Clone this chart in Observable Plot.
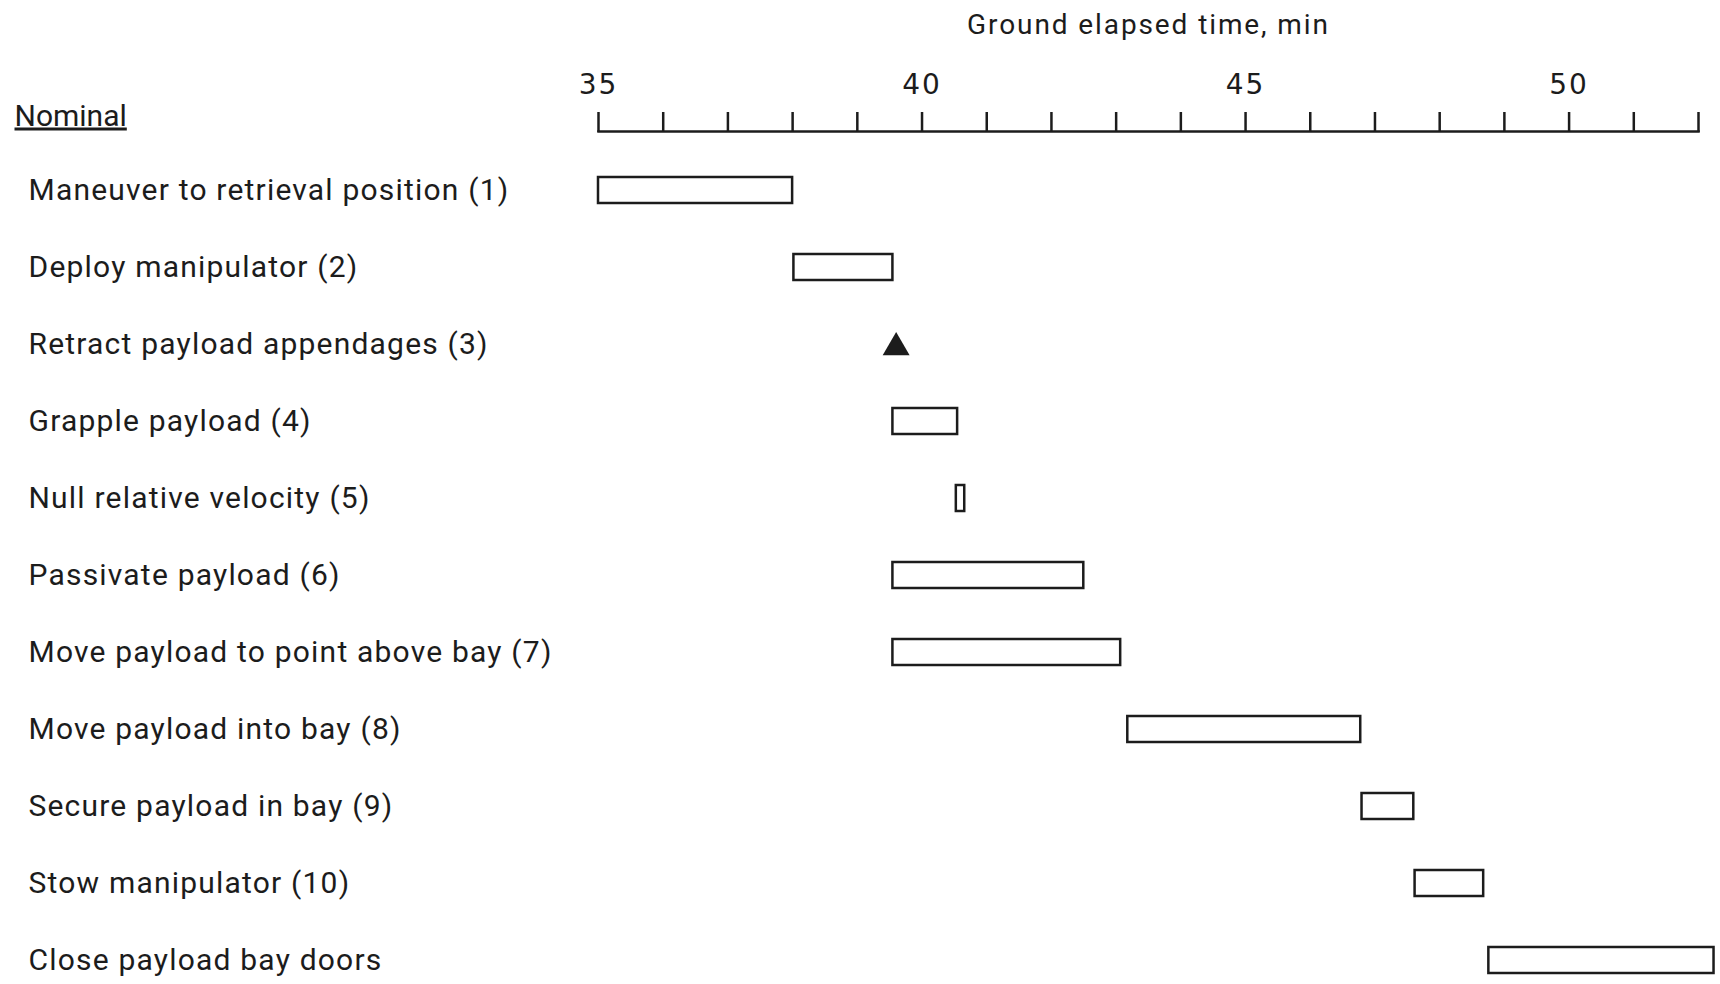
<!DOCTYPE html>
<html><head><meta charset="utf-8">
<script src="https://cdn.jsdelivr.net/npm/d3@7"></script>
<script src="https://cdn.jsdelivr.net/npm/@observablehq/plot@0.6"></script>
<style>
html,body{margin:0;padding:0;background:#fff;}
#chart svg{display:block;}
#chart g[aria-label="y-axis tick label"] text{letter-spacing:1.2px;font-weight:400;}
#chart g[aria-label="x-axis tick label"] text{letter-spacing:2px;}
#chart .axis-title text{letter-spacing:1.9px;font-weight:400;}
#chart .nominal-heading text{font-weight:400;text-decoration:underline;text-decoration-thickness:3px;text-underline-offset:8px;}
</style></head><body><div id="chart"></div>
<script>
// ---- data ----
const tasks = [
  "Maneuver to retrieval position (1)",
  "Deploy manipulator (2)",
  "Retract payload appendages (3)",
  "Grapple payload (4)",
  "Null relative velocity (5)",
  "Passivate payload (6)",
  "Move payload to point above bay (7)",
  "Move payload into bay (8)",
  "Secure payload in bay (9)",
  "Stow manipulator (10)",
  "Close payload bay doors"
];
const barTasks = [
  "Maneuver to retrieval position (1)",
  "Deploy manipulator (2)",
  "Grapple payload (4)",
  "Null relative velocity (5)",
  "Passivate payload (6)",
  "Move payload to point above bay (7)",
  "Move payload into bay (8)",
  "Secure payload in bay (9)",
  "Stow manipulator (10)",
  "Close payload bay doors"
];
const barStart = [35.0, 38.02, 39.55, 40.53, 39.55, 39.55, 43.18, 46.80, 47.62, 48.76];
const barEnd   = [38.0, 39.55, 40.55, 40.66, 42.50, 43.07, 46.78, 47.60, 48.68, 52.24];
const eventTasks = ["Retract payload appendages (3)"];
const eventTimes = [39.6];
const minuteTicks = [35,36,37,38,39,40,41,42,43,44,45,46,47,48,49,50,51,52];
const labeledTicks = [35,40,45,50];
const axisTitle = "Ground elapsed time, min";
const groupHeading = "Nominal";

const bars = barTasks.map((t, i) => ({task: t, start: barStart[i], end: barEnd[i]}));
const events = eventTasks.map((t, i) => ({task: t, time: eventTimes[i]}));

const ink = "#1c1c1c";
const labelFont = "Roboto, 'Liberation Sans', sans-serif";

const chart = Plot.plot({
  width: 1720,
  height: 984,
  marginLeft: 598,
  marginRight: 22,
  marginTop: 131,
  marginBottom: 8.6,
  x: {domain: [35, 52]},
  y: {domain: tasks, paddingInner: 0.664, paddingOuter: 0, insetTop: 44.4, axis: null},
  style: {background: "#fff", color: ink, fontFamily: labelFont},
  marks: [
    Plot.frame({anchor: "top", stroke: ink, strokeWidth: 2.5}),
    Plot.axisX({
      anchor: "top", ticks: minuteTicks, tickSize: 20, tickPadding: 18,
      tickFormat: d => labeledTicks.includes(d) ? String(d) : "",
      stroke: ink, strokeWidth: 2.5, fontSize: 28, fontFamily: "'DejaVu Sans', sans-serif",
      label: null
    }),
    Plot.axisY({
      anchor: "left", tickSize: 0, tickPadding: 0, textAnchor: "start",
      dx: 28 - 598, fontSize: 30, fontFamily: labelFont, fill: ink, label: null
    }),
    Plot.barX(bars, {x1: "start", x2: "end", y: "task", fill: "#fff", stroke: ink, strokeWidth: 2.5}),
    Plot.dot(events, {x: "time", y: "task", symbol: "triangle", r: 10, fill: ink, stroke: null, dy: 3}),
    Plot.text([axisTitle], {text: d => d, frameAnchor: "top", dy: -117, fontSize: 28,
      fontFamily: labelFont, fill: ink, className: "axis-title"}),
    Plot.text([groupHeading], {text: d => d, frameAnchor: "top-left", textAnchor: "start", lineAnchor: "bottom",
      dx: 14 - 598, dy: -6, fontSize: 30, fontFamily: labelFont, fill: ink, className: "nominal-heading"})
  ]
});
document.getElementById("chart").appendChild(chart);
</script></body></html>
